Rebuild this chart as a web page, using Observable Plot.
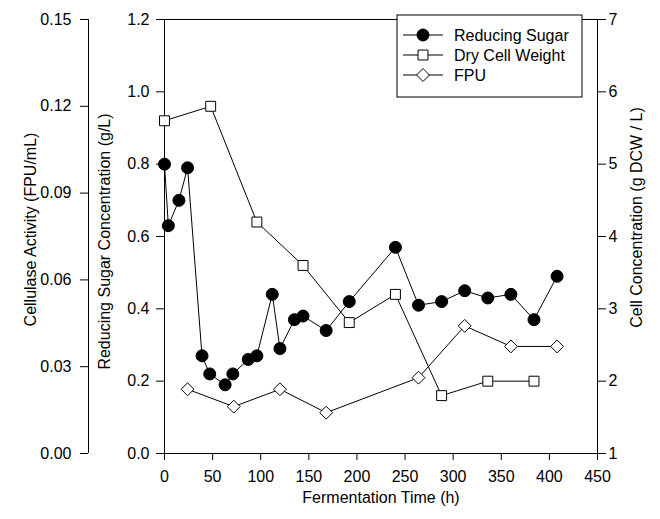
<!DOCTYPE html>
<html><head><meta charset="utf-8">
<script src="https://cdn.jsdelivr.net/npm/d3@7"></script>
<script src="https://cdn.jsdelivr.net/npm/@observablehq/plot@0.6"></script>
<style>
body{margin:0;background:#fff;}
#chart{width:660px;height:519px;}
svg{font-family:"Liberation Sans",Arial,sans-serif;}
</style></head><body><div id="chart"></div>
<script>
// Reducing sugar (g/L) — left inner axis
const sugarTime = [0,4,15,24,39,47,63,71,87,96,112,120,135,144,168,192,240,264,288,312,336,360,384,408];
const sugarValue = [0.80,0.63,0.70,0.79,0.27,0.22,0.19,0.22,0.26,0.27,0.44,0.29,0.37,0.38,0.34,0.42,0.57,0.41,0.42,0.45,0.43,0.44,0.37,0.49];
// Dry cell weight (g DCW / L) — right axis
const dcwTime = [0,48,96,144,192,240,288,336,384];
const dcwValue = [5.6,5.8,4.2,3.6,2.81,3.2,1.8,2.0,2.0];
// FPU (FPU/mL) — left outer axis
const fpuTime = [24,72,120,168,264,312,360,408];
const fpuValue = [0.0222,0.0162,0.0222,0.0141,0.0262,0.0441,0.0370,0.0370];

const xTicks = [0,50,100,150,200,250,300,350,400,450];
const sugarTicks = [0,0.2,0.4,0.6,0.8,1.0,1.2];
const dcwTicks = [1,2,3,4,5,6,7];
const fpuTicks = [0,0.03,0.06,0.09,0.12,0.15];

const seriesNames = ["Reducing Sugar","Dry Cell Weight","FPU"];
const xTitle = "Fermentation Time (h)";
const fpuTitle = "Cellulase Activity (FPU/mL)";
const sugarTitle = "Reducing Sugar Concentration (g/L)";
const dcwTitle = "Cell Concentration (g DCW / L)";

const sugarMax = sugarTicks[sugarTicks.length-1];
const dcwMin = dcwTicks[0], dcwMax = dcwTicks[dcwTicks.length-1];
const fpuMax = fpuTicks[fpuTicks.length-1];
const fromDcw = v => (v - dcwMin) / (dcwMax - dcwMin) * sugarMax;
const fromFpu = v => v / fpuMax * sugarMax;

const sugar = sugarTime.map((t,i)=>({t, v: sugarValue[i]}));
const dcw = dcwTime.map((t,i)=>({t, v: fromDcw(dcwValue[i])}));
const fpu = fpuTime.map((t,i)=>({t, v: fromFpu(fpuValue[i])}));

const outerDx = -76;
const FS = 16;
const rCircle = 6, rSquare = 5.6, rDiamond = 5.8;

const chart = Plot.plot({
  width: 660, height: 519,
  marginLeft: 164, marginRight: 63, marginTop: 19, marginBottom: 66,
  style: {fontFamily: '"Liberation Sans", Arial, sans-serif', fontSize: "16px", color: "#000", background: "#fff", overflow: "visible"},
  x: {domain: [xTicks[0], xTicks[xTicks.length-1]]},
  y: {domain: [sugarTicks[0], sugarMax], label: null},
  marks: [
    Plot.frame({stroke: "#000"}),
    Plot.ruleX([xTicks[0]], {dx: outerDx, stroke: "#000"}),
    Plot.axisX(xTicks, {tickSize: 7, tickPadding: 10, fontSize: FS, label: null, tickFormat: d => String(d)}),
    Plot.axisY(sugarTicks, {anchor: "left", tickSize: 8, tickPadding: 7, fontSize: FS, label: null, tickFormat: d => d.toFixed(1)}),
    Plot.axisY(dcwTicks.map(fromDcw), {anchor: "right", tickSize: 8, tickPadding: 3, fontSize: FS, label: null,
      tickFormat: d => String(Math.round(d / sugarMax * (dcwMax - dcwMin) + dcwMin))}),
    Plot.axisY(fpuTicks.map(fromFpu), {anchor: "left", dx: outerDx, tickSize: 8, tickPadding: 9, fontSize: FS, label: null,
      tickFormat: d => (d / sugarMax * fpuMax).toFixed(2)}),
    Plot.text([xTitle], {frameAnchor: "bottom", dy: 44, text: d => d, fontSize: FS, textAnchor: "middle", lineAnchor: "middle"}),
    Plot.text([fpuTitle], {frameAnchor: "left", rotate: -90, dx: 30 - 164, dy: -7, text: d => d, fontSize: FS, textAnchor: "middle", lineAnchor: "middle"}),
    Plot.text([sugarTitle], {frameAnchor: "left", rotate: -90, dx: 104 - 164, dy: 5, text: d => d, fontSize: FS, textAnchor: "middle", lineAnchor: "middle"}),
    Plot.text([dcwTitle], {frameAnchor: "right", rotate: -90, dx: 39, dy: -19, text: d => d, fontSize: FS, textAnchor: "middle", lineAnchor: "middle"}),
    Plot.line(fpu, {x: "t", y: "v", stroke: "#000", strokeWidth: 1}),
    Plot.line(dcw, {x: "t", y: "v", stroke: "#000", strokeWidth: 1}),
    Plot.line(sugar, {x: "t", y: "v", stroke: "#000", strokeWidth: 1}),
    Plot.dot(fpu, {x: "t", y: "v", symbol: "diamond2", r: rDiamond, fill: "#fff", stroke: "#000", strokeWidth: 1}),
    Plot.dot(dcw, {x: "t", y: "v", symbol: "square", r: rSquare, fill: "#fff", stroke: "#000", strokeWidth: 1}),
    Plot.dot(sugar, {x: "t", y: "v", symbol: "circle", r: rCircle, fill: "#000", stroke: "#000", strokeWidth: 1})
  ]
});
document.getElementById("chart").appendChild(chart);

// Legend (drawn into the same SVG)
const svg = d3.select(chart);
const lg = svg.append("g").attr("transform", "translate(397,15)");
lg.append("rect").attr("width", 185).attr("height", 82).attr("fill", "#fff").attr("stroke", "#000");
const syms = [
  {s: d3.symbolCircle, r: rCircle, fill: "#000"},
  {s: d3.symbolSquare, r: rSquare, fill: "#fff"},
  {s: d3.symbolDiamond2, r: rDiamond, fill: "#fff"}
];
seriesNames.forEach((name, i) => {
  const y = 20 + i * 20;
  lg.append("line").attr("x1", 6).attr("x2", 46).attr("y1", y).attr("y2", y).attr("stroke", "#000");
  lg.append("path").attr("d", d3.symbol(syms[i].s, Math.PI * syms[i].r * syms[i].r)())
    .attr("transform", `translate(26,${y})`).attr("fill", syms[i].fill).attr("stroke", "#000");
  lg.append("text").attr("x", 57).attr("y", y).attr("dy", "0.35em").attr("font-size", FS)
    .attr("text-anchor", "start").attr("fill", "#000").text(name);
});
</script></body></html>
